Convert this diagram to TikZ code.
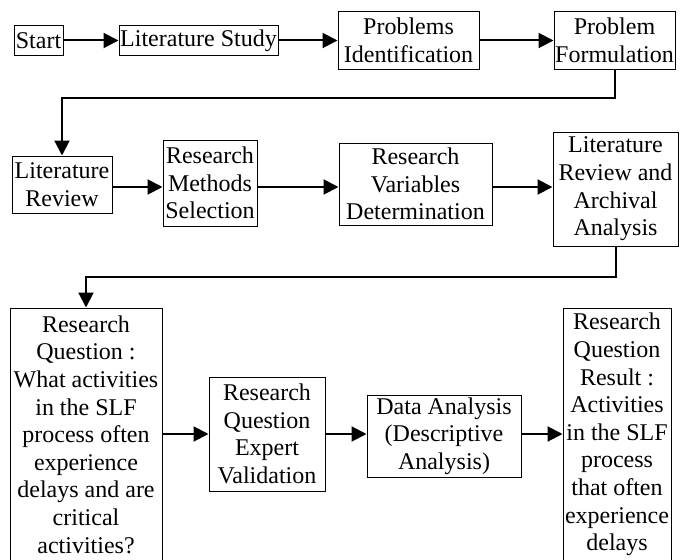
\documentclass[tikz,border=0pt]{standalone}
\usepackage{fontspec}
\setmainfont{Liberation Serif}
\usetikzlibrary{arrows.meta}
\begin{document}
\begin{tikzpicture}[x=1pt,y=-1pt,
  box/.style={draw, line width=1pt, inner sep=0pt, align=center,
    font=\fontsize{24}{27.6}\selectfont},
  arr/.style={line width=2pt, -{Triangle[length=15pt,width=15pt]}},
  link/.style={line width=2pt}]
\clip (0,0) rectangle (682,559);
% row 1
\node[box, minimum width=49, minimum height=30] (start) at (38.5,40.5) {Start};
\node[box, minimum width=159, minimum height=30] (ls) at (198.5,40.5) {Literature Study};
\node[box, minimum width=141, minimum height=58] (pi) at (408.5,40.5) {Problems\\Identification};
\node[box, minimum width=121, minimum height=58] (pf) at (614.5,40.5) {Problem\\Formulation};
% row 2
\node[box, minimum width=100, minimum height=57] (lr) at (62,184.5) {Literature\\Review};
\node[box, minimum width=94, minimum height=86] (rms) at (210,183) {Research\\Methods\\Selection};
\node[box, minimum width=153, minimum height=82] (rvd) at (415.5,184) {Research\\Variables\\Determination};
\node[box, minimum width=125, minimum height=114] (lraa) at (615.5,189) {Literature\\Review and\\Archival\\Analysis};
% row 3
\node[box, minimum width=152, minimum height=253] (rq) at (86,434.5) {Research\\Question :\\What activities\\in the SLF\\process often\\experience\\delays and are\\critical\\activities?};
\node[box, minimum width=116, minimum height=114] (rqev) at (267,434) {Research\\Question\\Expert\\Validation};
\node[box, minimum width=154, minimum height=82] (da) at (444,436) {Data Analysis\\(Descriptive\\Analysis)};
\node[box, minimum width=108, minimum height=253] (res) at (617,434.5) {Research\\Question\\Result :\\Activities\\in the SLF\\process\\that often\\experience\\delays};
% connectors row 1
\draw[arr] (start.east) -- (start.east -| ls.west);
\draw[arr] (ls.east) -- (ls.east -| pi.west);
\draw[arr] (pi.east) -- (pi.east -| pf.west);
\draw[arr] (pf.south) -- (pf.south |- 0,98) -| (lr.north);
% connectors row 2
\draw[arr] (lr.east |- 0,187) -- (rms.west |- 0,187);
\draw[arr] (rms.east |- 0,187) -- (rvd.west |- 0,187);
\draw[arr] (rvd.east |- 0,187) -- (lraa.west |- 0,187);
\draw[arr] (lraa.south) -- (lraa.south |- 0,277) -| (rq.north);
% connectors row 3
\draw[arr] (rq.east |- 0,434) -- (rqev.west |- 0,434);
\draw[arr] (rqev.east |- 0,434) -- (da.west |- 0,434);
\draw[arr] (da.east |- 0,434) -- (res.west |- 0,434);
\end{tikzpicture}
\end{document}
